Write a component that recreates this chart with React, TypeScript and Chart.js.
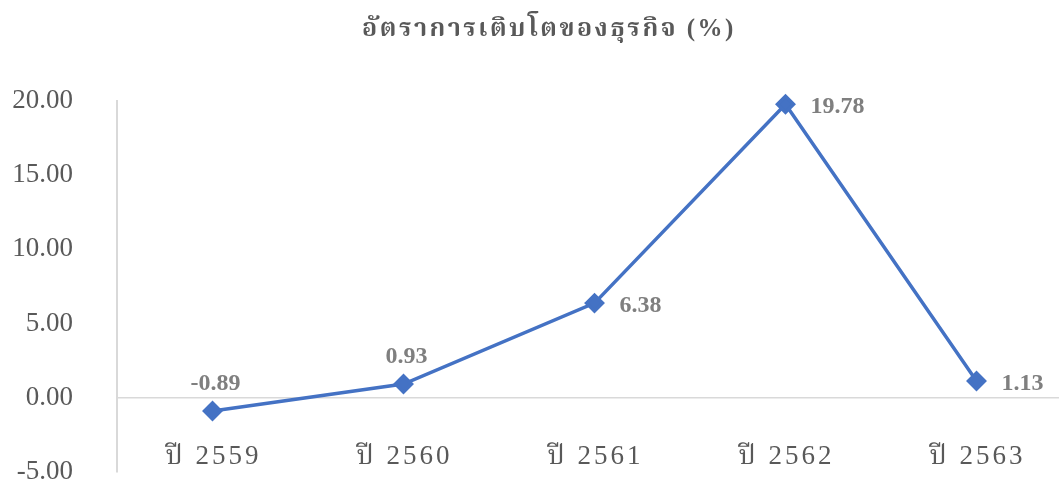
import React, { useEffect, useRef } from "react";
import { Chart, registerables } from "chart.js";

Chart.register(...registerables);

const chartTitle = "อัตราการเติบโตของธุรกิจ (%)";
const categories = ["ปี 2559", "ปี 2560", "ปี 2561", "ปี 2562", "ปี 2563"];
const growth = [-0.89, 0.93, 6.38, 19.78, 1.13];
const labelPlacement = ["above", "above", "right", "right", "right"];
const yTicks = [-5, 0, 5, 10, 15, 20];

const SERIF = "'Liberation Serif', 'Times New Roman', 'Noto Serif Thai', 'Noto Sans Thai', serif";

const overlayPlugin = {
  id: "overlay",
  afterDatasetsDraw(chart: any) {
    const ctx = chart.ctx as CanvasRenderingContext2D;
    const meta = chart.getDatasetMeta(0);
    const xScale = chart.scales.x;
    const yScale = chart.scales.y;
    ctx.save();
    ctx.font = `bold 24px ${SERIF}`;
    ctx.fillStyle = "#7f7f7f";
    meta.data.forEach((pt: any, i: number) => {
      const txt = growth[i].toFixed(2);
      if (labelPlacement[i] === "above") {
        ctx.textAlign = "center";
        ctx.textBaseline = "middle";
        ctx.fillText(txt, pt.x + 3, pt.y - 27);
      } else {
        ctx.textAlign = "left";
        ctx.textBaseline = "middle";
        ctx.fillText(txt, pt.x + 25, pt.y + 3);
      }
    });
    ctx.font = `27px ${SERIF}`;
    ctx.fillStyle = "#595959";
    ctx.textAlign = "center";
    ctx.textBaseline = "middle";
    (ctx as any).letterSpacing = "3px";
    const zeroY = yScale.getPixelForValue(0);
    categories.forEach((c, i) => {
      ctx.fillText(c, xScale.getPixelForValue(i) + 1, zeroY + 59);
    });
    ctx.font = `bold 25px ${SERIF}`;
    (ctx as any).letterSpacing = "2.5px";
    ctx.fillText(chartTitle, 549, 30);
    ctx.restore();
  },
};

export default function App() {
  const ref = useRef<HTMLCanvasElement>(null);
  useEffect(() => {
    if (!ref.current) return;
    const chart = new Chart(ref.current, {
      type: "line",
      data: {
        labels: categories,
        datasets: [
          {
            data: growth,
            borderColor: "#4472C4",
            backgroundColor: "#4472C4",
            borderWidth: 3.5,
            pointStyle: "rectRot",
            pointRadius: 8,
            pointHoverRadius: 8,
            tension: 0,
            clip: false,
          },
        ],
      },
      plugins: [overlayPlugin],
      options: {
        responsive: false,
        animation: false,
        events: [],
        layout: { padding: { top: 101, bottom: 13, left: 0, right: 22 } },
        plugins: { legend: { display: false }, title: { display: false }, tooltip: { enabled: false } },
        scales: {
          x: {
            type: "category",
            display: false,
            offset: true,
          },
          y: {
            min: yTicks[0],
            max: yTicks[yTicks.length - 1],
            afterBuildTicks(scale: any) {
              scale.ticks = yTicks.map((v) => ({ value: v }));
            },
            afterFit(scale: any) {
              scale.width = 117;
              scale.paddingTop = 0;
              scale.paddingBottom = 0;
            },
            border: { display: true, color: "#d9d9d9", width: 2 },
            grid: {
              drawTicks: false,
              color: (c: any) => (c.tick && c.tick.value === 0 ? "#d9d9d9" : "rgba(0,0,0,0)"),
              lineWidth: 1.5,
            },
            ticks: {
              padding: 44,
              color: "#595959",
              font: { family: SERIF, size: 27 },
              callback: (v: any) => Number(v).toFixed(2),
            },
          },
        },
      },
    });
    return () => chart.destroy();
  }, []);
  return (
    <div style={{ position: "fixed", left: 0, top: 0, width: 1059, height: 485, overflow: "hidden", background: "#fff" }}>
      <canvas ref={ref} width={1094} height={485} style={{ width: 1094, height: 485, display: "block" }} />
    </div>
  );
}
